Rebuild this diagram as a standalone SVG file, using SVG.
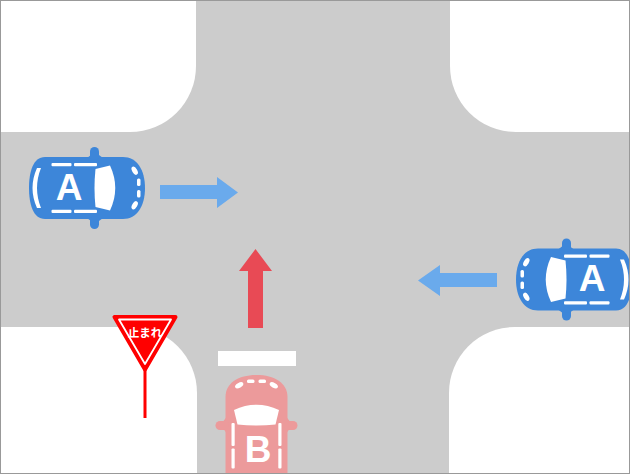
<svg xmlns="http://www.w3.org/2000/svg" xmlns:xlink="http://www.w3.org/1999/xlink" width="630" height="474" viewBox="0 0 630 474">
<style>
.block{fill:#ffffff}
.win{fill:#ffffff}
.lbl{font-family:"Liberation Sans",Arial,sans-serif;font-weight:bold;font-size:37px;fill:#ffffff;text-anchor:middle}
.sign{font-family:"Noto Sans CJK JP","Noto Sans CJK SC",sans-serif;font-weight:bold;font-size:11.5px;fill:#ffffff;text-anchor:middle}
.blueArrow{fill:#6AAAEC}
.redArrow{fill:#E84A55}
</style>
<defs>
<g id="car">
<path d="M -42,-31 L 36,-31 C 50,-31 58,-18 58,0 C 58,18 50,31 36,31 L -42,31 C -54,31 -58,16 -58,0 C -58,-16 -54,-31 -42,-31 Z"/>
<rect x="3" y="-41" width="9" height="13" rx="4.5"/>
<rect x="3" y="28" width="9" height="13" rx="4.5"/>
<path d="M 0,-30 L 16,-30 L 12,-33 L 4,-33 Z"/>
<path d="M 0,30 L 16,30 L 12,33 L 4,33 Z"/>
<g class="win">
<path d="M -50,-20 Q -59,0 -50,20 L -46,20 Q -54,0 -46,-20 Z"/>
<rect x="-35.5" y="-25" width="20" height="3.2" rx="1"/>
<rect x="-13" y="-25" width="23" height="3.2" rx="1"/>
<rect x="-35.5" y="21.8" width="20" height="3.2" rx="1"/>
<rect x="-13" y="21.8" width="23" height="3.2" rx="1"/>
<path d="M 8.5,-19 L 23,-22.5 Q 33.5,0 23,22.5 L 8.5,19 Q 6.5,0 8.5,-19 Z"/>
<ellipse cx="47.7" cy="-17.3" rx="2.5" ry="4.5" transform="rotate(-30 47.7 -17.3)"/>
<ellipse cx="47.7" cy="17.3" rx="2.5" ry="4.5" transform="rotate(30 47.7 17.3)"/>
<rect x="50" y="-9.5" width="3.5" height="7.5" rx="1.5"/>
<rect x="50" y="2" width="3.5" height="7.5" rx="1.5"/>
</g>
</g>
</defs>
<rect width="630" height="474" fill="#cccccc"/>
<g id="blocks">
<path class="block" d="M0,0 H196 V66 A66,66 0 0 1 130,132 H0 Z"/>
<path class="block" d="M450,0 H630 V132 H516 A66,66 0 0 1 450,66 Z"/>
<path class="block" d="M0,327 H131 A66,66 0 0 1 197,393 V474 H0 Z"/>
<path class="block" d="M449,474 V393 A66,66 0 0 1 515,327 H630 V474 Z"/>
</g>
<rect id="stop-line" x="218" y="351" width="78" height="15" fill="#ffffff"/>
<g id="connectors">
<polygon class="blueArrow" points="160,185 217,185 217,177 238,192.5 217,208 217,199 160,199"/>
<polygon class="blueArrow" points="497,273 440,273 440,265 418,280.5 440,296 440,287 497,287"/>
<polygon class="redArrow" points="248,328 248,271 239,271 255.5,249 272,271 263,271 263,328"/>
</g>
<g id="carA-left">
<use xlink:href="#car" href="#car" transform="translate(87,188)" fill="#3D86D9"/>
<text class="lbl" x="69" y="200">A</text>
</g>
<g id="carA-right">
<use xlink:href="#car" href="#car" transform="translate(574,279.5) rotate(180)" fill="#3D86D9"/>
<text class="lbl" x="592" y="291">A</text>
</g>
<g id="carB">
<use xlink:href="#car" href="#car" transform="translate(256.5,433) rotate(-90)" fill="#EC9A9B"/>
<text class="lbl" x="258" y="462">B</text>
</g>
<g id="stop-sign">
<rect x="143.5" y="368" width="3" height="50" fill="#ff0000"/>
<polygon points="114.5,317 175.5,317 145,369.5" fill="#ff0000" stroke="#ff0000" stroke-width="4" stroke-linejoin="round"/>
<polygon points="119,319.5 171,319.5 145,364" fill="none" stroke="#ffffff" stroke-width="1.8" stroke-linejoin="round"/>
<text class="sign" x="145" y="336.5">止まれ</text>
</g>
<rect x="0.5" y="0.5" width="629" height="473" fill="none" stroke="#999999" stroke-width="1"/>
</svg>
